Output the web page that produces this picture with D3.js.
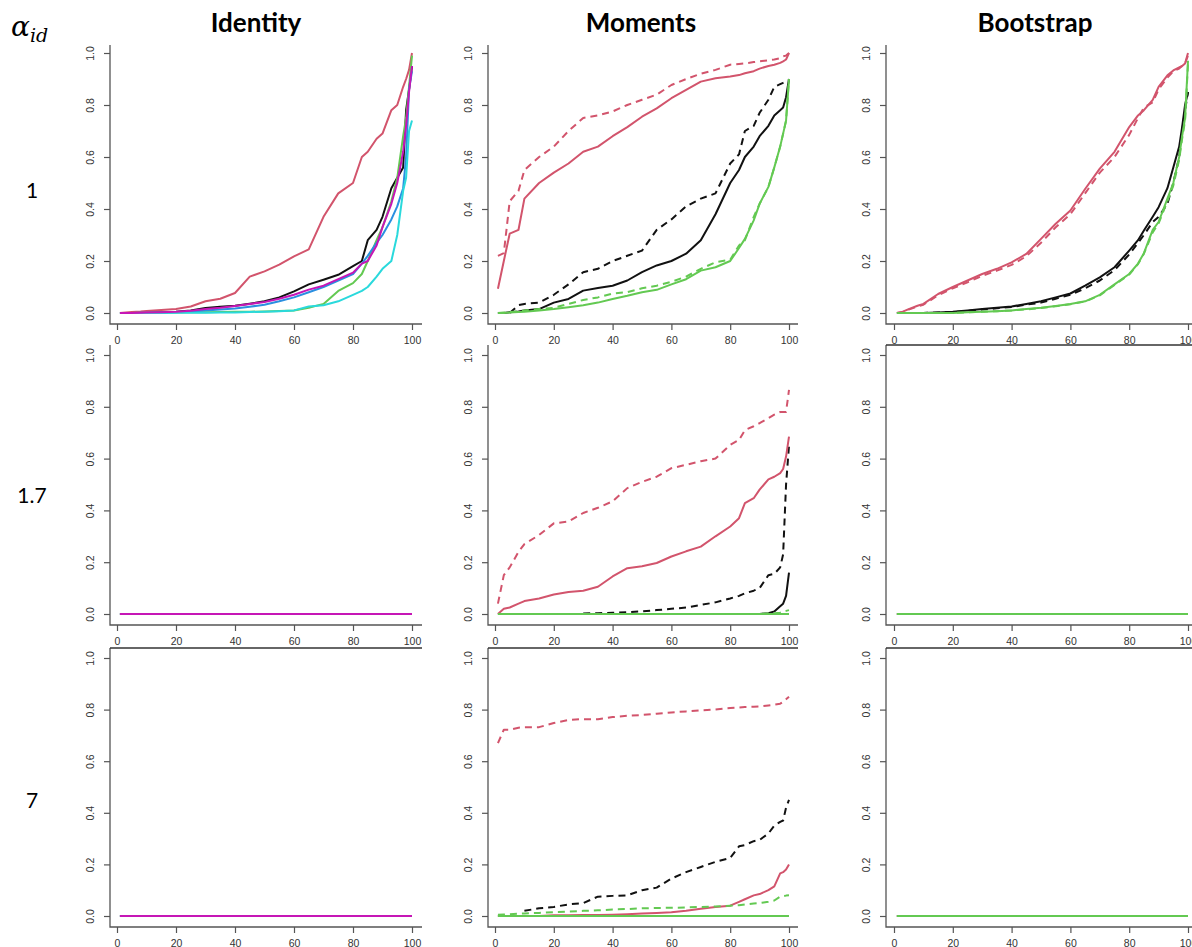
<!DOCTYPE html>
<html>
<head>
<meta charset="utf-8">
<script src="https://cdn.jsdelivr.net/npm/d3@7"></script>
<style>
  body { margin: 0; background: #fff; }
  svg { display: block; }
</style>
</head>
<body>
<div id="container"></div>
<script>
// percentile grid (x values)
const pct = [1, 3, 5, 8, 10, 15, 20, 25, 30, 35, 40, 45, 50, 55, 60, 65, 70, 75, 80, 83, 85, 88, 90, 93, 95, 97, 98, 99, 100];
const xTicks = [0, 20, 40, 60, 80, 100];
const yTicks = [0, 0.2, 0.4, 0.6, 0.8, 1.0];
const methods = ['Identity', 'Moments', 'Bootstrap'];
const alphas = ['1', '1.7', '7'];

// Identity, alpha = 1
const idBlack   = [0, 0, 0, 0.001, 0.002, 0.003, 0.005, 0.01, 0.019, 0.024, 0.028, 0.036, 0.045, 0.06, 0.083, 0.11, 0.128, 0.147, 0.18, 0.2, 0.28, 0.32, 0.37, 0.48, 0.52, 0.56, 0.78, 0.86, 0.95];
const idRed     = [0, 0.002, 0.004, 0.006, 0.008, 0.012, 0.015, 0.025, 0.045, 0.055, 0.077, 0.14, 0.16, 0.186, 0.218, 0.245, 0.37, 0.46, 0.5, 0.6, 0.62, 0.67, 0.69, 0.78, 0.8, 0.87, 0.9, 0.935, 1.0];
const idGreen   = [0, 0, 0, 0, 0, 0.001, 0.002, 0.003, 0.003, 0.004, 0.005, 0.005, 0.006, 0.008, 0.01, 0.02, 0.035, 0.085, 0.115, 0.15, 0.2, 0.28, 0.33, 0.43, 0.52, 0.68, 0.75, 0.87, 0.99];
const idBlue    = [0, 0, 0, 0.001, 0.001, 0.002, 0.003, 0.006, 0.01, 0.013, 0.017, 0.024, 0.032, 0.045, 0.06, 0.08, 0.1, 0.125, 0.15, 0.19, 0.22, 0.27, 0.3, 0.36, 0.41, 0.48, 0.6, 0.86, 0.93];
const idCyan    = [0, 0, 0, 0, 0, 0, 0.001, 0.001, 0.001, 0.002, 0.002, 0.004, 0.005, 0.007, 0.01, 0.025, 0.03, 0.045, 0.07, 0.085, 0.1, 0.14, 0.17, 0.2, 0.3, 0.47, 0.52, 0.7, 0.74];
const idMagenta = [0, 0, 0, 0.001, 0.002, 0.003, 0.005, 0.009, 0.015, 0.02, 0.027, 0.035, 0.042, 0.055, 0.07, 0.09, 0.105, 0.13, 0.155, 0.19, 0.2, 0.26, 0.33, 0.42, 0.5, 0.62, 0.72, 0.85, 0.95];

// Moments, alpha = 1
const m1BlackS = [0, 0, 0.003, 0.006, 0.01, 0.015, 0.04, 0.054, 0.086, 0.096, 0.105, 0.125, 0.157, 0.183, 0.2, 0.228, 0.28, 0.38, 0.5, 0.55, 0.6, 0.64, 0.68, 0.72, 0.76, 0.78, 0.79, 0.83, 0.9];
const m1BlackD = [0, 0, 0, 0.03, 0.035, 0.04, 0.07, 0.11, 0.157, 0.17, 0.2, 0.22, 0.24, 0.32, 0.36, 0.41, 0.44, 0.46, 0.575, 0.61, 0.7, 0.72, 0.77, 0.82, 0.87, 0.88, 0.885, 0.89, 0.895];
const m1RedS   = [0.093, 0.2, 0.305, 0.32, 0.44, 0.5, 0.54, 0.575, 0.62, 0.64, 0.68, 0.715, 0.755, 0.787, 0.826, 0.858, 0.89, 0.903, 0.91, 0.915, 0.922, 0.93, 0.94, 0.95, 0.955, 0.962, 0.968, 0.975, 1.0];
const m1RedD   = [0.22, 0.23, 0.43, 0.47, 0.55, 0.6, 0.64, 0.7, 0.75, 0.76, 0.775, 0.8, 0.82, 0.84, 0.877, 0.9, 0.92, 0.935, 0.955, 0.958, 0.96, 0.965, 0.968, 0.972, 0.975, 0.98, 0.987, 0.99, 1.0];
const m1GreenS = [0, 0, 0.002, 0.004, 0.005, 0.01, 0.015, 0.022, 0.03, 0.04, 0.054, 0.066, 0.08, 0.089, 0.11, 0.13, 0.163, 0.176, 0.2, 0.25, 0.285, 0.356, 0.42, 0.485, 0.56, 0.64, 0.69, 0.74, 0.9];
const m1GreenD = [0, 0.002, 0.004, 0.006, 0.01, 0.015, 0.02, 0.035, 0.05, 0.06, 0.075, 0.08, 0.095, 0.105, 0.12, 0.14, 0.17, 0.195, 0.205, 0.26, 0.28, 0.37, 0.42, 0.485, 0.56, 0.64, 0.69, 0.74, 0.9];

// Bootstrap, alpha = 1
const b1BlackS = [0, 0, 0, 0, 0, 0.002, 0.005, 0.01, 0.015, 0.02, 0.025, 0.035, 0.045, 0.06, 0.075, 0.105, 0.137, 0.176, 0.24, 0.28, 0.317, 0.37, 0.407, 0.48, 0.56, 0.64, 0.715, 0.8, 0.85];
const b1BlackD = [0, 0, 0, 0, 0, 0.002, 0.004, 0.008, 0.013, 0.018, 0.023, 0.032, 0.04, 0.055, 0.07, 0.095, 0.125, 0.165, 0.225, 0.27, 0.3, 0.35, 0.37, 0.42, 0.5, 0.6, 0.7, 0.78, 0.85];
const b1RedS   = [0, 0.005, 0.015, 0.028, 0.035, 0.073, 0.1, 0.125, 0.15, 0.17, 0.195, 0.227, 0.285, 0.343, 0.394, 0.477, 0.555, 0.62, 0.715, 0.76, 0.78, 0.82, 0.87, 0.914, 0.933, 0.945, 0.95, 0.96, 1.0];
const b1RedD   = [0, 0.004, 0.013, 0.025, 0.032, 0.068, 0.095, 0.118, 0.143, 0.163, 0.185, 0.218, 0.27, 0.33, 0.38, 0.46, 0.54, 0.6, 0.685, 0.75, 0.79, 0.81, 0.86, 0.905, 0.93, 0.94, 0.95, 0.96, 0.99];
const b1GreenS = [0, 0, 0, 0, 0, 0, 0, 0.003, 0.005, 0.007, 0.01, 0.015, 0.02, 0.027, 0.035, 0.045, 0.07, 0.11, 0.15, 0.19, 0.23, 0.32, 0.35, 0.44, 0.5, 0.6, 0.68, 0.75, 0.97];
const b1GreenD = [0, 0, 0, 0, 0, 0, 0, 0.003, 0.005, 0.007, 0.01, 0.014, 0.019, 0.026, 0.034, 0.044, 0.068, 0.108, 0.148, 0.188, 0.228, 0.31, 0.345, 0.43, 0.49, 0.59, 0.67, 0.74, 0.96];

// Moments, alpha = 1.7
const m2BlackS = [0, 0, 0, 0, 0, 0, 0, 0, 0, 0, 0, 0, 0, 0, 0, 0, 0, 0, 0, 0, 0, 0, 0, 0.003, 0.01, 0.03, 0.04, 0.07, 0.16];
const m2BlackD = [null, null, null, null, null, null, null, null, 0.002, 0.003, 0.005, 0.007, 0.01, 0.015, 0.02, 0.025, 0.035, 0.045, 0.06, 0.07, 0.08, 0.09, 0.1, 0.15, 0.155, 0.18, 0.23, 0.5, 0.65];
const m2RedS   = [0, 0.02, 0.025, 0.04, 0.05, 0.06, 0.075, 0.085, 0.09, 0.105, 0.145, 0.177, 0.184, 0.197, 0.222, 0.242, 0.26, 0.3, 0.338, 0.37, 0.428, 0.447, 0.48, 0.52, 0.53, 0.544, 0.56, 0.608, 0.685];
const m2RedD   = [0.04, 0.15, 0.18, 0.24, 0.27, 0.305, 0.35, 0.357, 0.39, 0.41, 0.435, 0.486, 0.51, 0.53, 0.563, 0.576, 0.59, 0.6, 0.653, 0.672, 0.71, 0.725, 0.737, 0.756, 0.77, 0.78, 0.78, 0.78, 0.865];
const m2GreenS = [0, 0, 0, 0, 0, 0, 0, 0, 0, 0, 0, 0, 0, 0, 0, 0, 0, 0, 0, 0, 0, 0, 0, 0, 0, 0, 0, 0, 0];
const m2GreenD = [0, 0, 0, 0, 0, 0, 0, 0, 0, 0, 0, 0, 0, 0, 0, 0, 0, 0, 0, 0, 0, 0, 0, 0.002, 0.003, 0.005, 0.01, 0.012, 0.015];

// Moments, alpha = 7
const m3BlackS = [0, 0, 0, 0, 0, 0, 0, 0, 0, 0, 0, 0, 0, 0, 0, 0, 0, 0, 0, 0, 0, 0, 0, 0, 0, 0, 0, 0, 0];
const m3BlackD = [null, null, null, null, 0.02, 0.03, 0.035, 0.045, 0.05, 0.075, 0.078, 0.08, 0.1, 0.11, 0.145, 0.17, 0.19, 0.21, 0.225, 0.27, 0.275, 0.29, 0.295, 0.32, 0.35, 0.365, 0.37, 0.42, 0.45];
const m3RedS   = [0, 0, 0, 0, 0, 0, 0.003, 0.003, 0.004, 0.004, 0.005, 0.007, 0.01, 0.012, 0.015, 0.02, 0.028, 0.035, 0.04, 0.055, 0.065, 0.08, 0.085, 0.1, 0.115, 0.165, 0.17, 0.18, 0.2];
const m3RedD   = [0.67, 0.722, 0.722, 0.73, 0.732, 0.732, 0.748, 0.76, 0.763, 0.763, 0.771, 0.776, 0.779, 0.784, 0.789, 0.793, 0.797, 0.8, 0.806, 0.808, 0.81, 0.811, 0.812, 0.816, 0.819, 0.823, 0.83, 0.84, 0.85];
const m3GreenS = [0, 0, 0, 0, 0, 0, 0, 0, 0, 0, 0, 0, 0, 0, 0, 0, 0, 0, 0, 0, 0, 0, 0, 0, 0, 0, 0, 0, 0];
const m3GreenD = [0.005, 0.006, 0.007, 0.009, 0.01, 0.012, 0.015, 0.017, 0.02, 0.022, 0.025, 0.027, 0.03, 0.031, 0.032, 0.033, 0.035, 0.037, 0.04, 0.042, 0.045, 0.048, 0.05, 0.055, 0.06, 0.075, 0.077, 0.079, 0.08];

// flat rows (everything at zero)
const flatZero = [0, 0, 0, 0, 0, 0, 0, 0, 0, 0, 0, 0, 0, 0, 0, 0, 0, 0, 0, 0, 0, 0, 0, 0, 0, 0, 0, 0, 0];

const colors = {
  black: '#111111', red: '#d2546c', green: '#63c952',
  blue: '#2a8fe0', cyan: '#2ad9dc', magenta: '#c616b6'
};
const DASH = '7,5';

function s(values, color, dashed) {
  return { values: values, color: colors[color], dash: dashed ? DASH : null };
}

const identityFlat = ['black', 'red', 'green', 'blue', 'cyan', 'magenta'].map(c => s(flatZero, c));
const bootstrapFlat = [s(flatZero, 'black'), s(flatZero, 'black', true), s(flatZero, 'red'), s(flatZero, 'red', true), s(flatZero, 'green'), s(flatZero, 'green', true)];

const panels = [
  [
    [s(idBlack, 'black'), s(idRed, 'red'), s(idGreen, 'green'), s(idBlue, 'blue'), s(idCyan, 'cyan'), s(idMagenta, 'magenta')],
    [s(m1BlackS, 'black'), s(m1BlackD, 'black', true), s(m1RedS, 'red'), s(m1RedD, 'red', true), s(m1GreenS, 'green'), s(m1GreenD, 'green', true)],
    [s(b1BlackS, 'black'), s(b1BlackD, 'black', true), s(b1RedS, 'red'), s(b1RedD, 'red', true), s(b1GreenS, 'green'), s(b1GreenD, 'green', true)]
  ],
  [
    identityFlat,
    [s(m2BlackS, 'black'), s(m2BlackD, 'black', true), s(m2RedS, 'red'), s(m2RedD, 'red', true), s(m2GreenS, 'green'), s(m2GreenD, 'green', true)],
    bootstrapFlat
  ],
  [
    identityFlat,
    [s(m3BlackS, 'black'), s(m3BlackD, 'black', true), s(m3RedS, 'red'), s(m3RedD, 'red', true), s(m3GreenS, 'green'), s(m3GreenD, 'green', true)],
    bootstrapFlat
  ]
];

// layout of the 3x3 grid
const cols = [
  { ax: 110, x0: 117, x1: 412, right: 422, title: 256 },
  { ax: 488, x0: 495, x1: 789, right: 798, title: 641 },
  { ax: 886, x0: 894, x1: 1188, right: 1192, title: 1035 }
];
const rows = [
  { top: 45, y0: 313, y1: 53, bottom: 324, label: 198, topLine: [false, false, false] },
  { top: 345, y0: 614, y1: 355, bottom: 625, label: 503, topLine: [false, false, true] },
  { top: 648, y0: 916, y1: 658, bottom: 927, label: 808, topLine: [true, true, true] }
];

const svg = d3.select('#container').append('svg')
  .attr('width', 1192)
  .attr('height', 947);

// column titles
cols.forEach((c, i) => {
  svg.append('text')
    .attr('x', c.title)
    .attr('y', 32)
    .attr('text-anchor', 'middle')
    .style('font-family', 'Lato, "Open Sans", sans-serif')
    .style('font-weight', 'bold')
    .style('font-size', '26px')
    .text(methods[i]);
});

// alpha_id label
const alphaLabel = svg.append('text')
  .attr('x', 11)
  .attr('y', 36)
  .style('font-family', '"DejaVu Serif", "Liberation Serif", serif')
  .style('font-style', 'italic');
alphaLabel.append('tspan').style('font-size', '28px').text('α');
alphaLabel.append('tspan').attr('dy', 6).style('font-size', '19px').text('id');

// row labels
rows.forEach((r, i) => {
  svg.append('text')
    .attr('x', 32)
    .attr('y', r.label)
    .attr('text-anchor', 'middle')
    .style('font-family', 'Lato, "Open Sans", sans-serif')
    .style('font-size', '21px')
    .text(alphas[i]);
});

rows.forEach((r, ri) => {
  cols.forEach((c, ci) => {
    drawPanel(r, c, panels[ri][ci], r.topLine[ci]);
  });
});

function drawPanel(r, c, series, topLine) {
  const x = d3.scaleLinear().domain([0, 100]).range([c.x0, c.x1]);
  const y = d3.scaleLinear().domain([0, 1]).range([r.y0, r.y1]);
  const g = svg.append('g');

  // L-shaped frame
  g.append('path')
    .attr('d', `M${c.ax},${r.top}V${r.bottom}H${c.right}`)
    .attr('fill', 'none')
    .attr('stroke', '#555')
    .attr('stroke-width', 1.3);
  if (topLine) {
    g.append('line')
      .attr('x1', c.ax).attr('x2', c.right)
      .attr('y1', r.top).attr('y2', r.top)
      .attr('stroke', '#333')
      .attr('stroke-width', 1.3);
  }

  const xAxis = g.append('g')
    .attr('transform', `translate(0,${r.bottom})`)
    .call(d3.axisBottom(x).tickValues(xTicks).tickSize(6).tickPadding(7));
  xAxis.select('.domain').remove();

  const yAxis = g.append('g')
    .attr('transform', `translate(${c.ax},0)`)
    .call(d3.axisLeft(y).tickValues(yTicks).tickSize(6).tickFormat(d3.format('.1f')));
  yAxis.select('.domain').remove();
  yAxis.selectAll('.tick text')
    .attr('transform', 'rotate(-90)')
    .attr('x', 0)
    .attr('y', -16)
    .attr('dy', 0)
    .attr('text-anchor', 'middle');

  [xAxis, yAxis].forEach(a => {
    a.selectAll('.tick line').attr('stroke', '#555').attr('stroke-width', 1.2);
    a.selectAll('.tick text')
      .attr('fill', '#333')
      .style('font-family', '"Liberation Sans", Arial, sans-serif')
      .style('font-size', '10.5px');
  });

  const line = d3.line()
    .defined(d => d[1] != null)
    .x(d => x(d[0]))
    .y(d => y(d[1]));

  series.forEach(sr => {
    g.append('path')
      .datum(pct.map((p, i) => [p, sr.values[i]]))
      .attr('d', line)
      .attr('fill', 'none')
      .attr('stroke', sr.color)
      .attr('stroke-width', 2)
      .attr('stroke-linejoin', 'round')
      .attr('stroke-dasharray', sr.dash);
  });
}
</script>
</body>
</html>
